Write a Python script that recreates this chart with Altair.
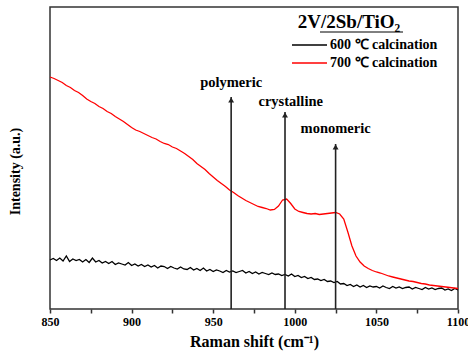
import altair as alt
import pandas as pd

# ---- data ----
black_y = [49, 50.5, 48.5, 51, 48, 53, 47.5, 50, 48.5, 49.5,
           47, 49.5, 46.5, 51, 47, 48.5, 46, 47.5, 45.5, 47.5,
           44.5, 46, 45, 44, 46.5, 43.5, 45, 43, 44.5, 42.5,
           44, 42, 43.5, 41, 43, 42.5, 40.5, 42.5, 41, 40,
           42, 40, 39.5, 41.5, 39, 40.5, 38.5, 41, 38, 39.5,
           37.5, 39, 38, 36.5, 38.5, 37, 38, 36.5, 37.5, 38.5,
           36, 37.5, 35.5, 37, 35, 36.5, 35.5, 34.5, 36, 34.5,
           35, 33.5, 34.5, 33, 35, 32.5, 33.5, 31.5, 32.5, 30.5,
           31.5, 29.5, 30, 28.5, 29.5, 27.5, 28, 26.5, 27.5, 25,
           25.5, 23.5, 24.5, 22.5, 24, 22, 23.5, 21.5, 23, 22,
           22.5, 21, 23, 21.5, 20.5, 22.5, 21, 22, 20.5, 21.5,
           22, 20, 21.5, 20.5, 19.5, 21.5, 20, 21, 19.5, 20.5,
           21, 19, 20, 18.5, 20.5, 19]
black_x = [850 + 2 * i for i in range(len(black_y))]

red_y = [232, 230.5, 228.5, 226.5, 223.5, 221.5, 218.5, 216.5, 213.5, 210,
         207.5, 205.5, 202.5, 200.5, 197.5, 195.5, 192.5, 190, 187.5, 184.5,
         181.5, 179, 177.5, 175.5, 173.5, 171.5, 170, 167.5, 165.5, 164.5,
         162, 160.5, 158, 155.5, 152.5, 149.5, 145.5, 142.5, 139.5, 135.5,
         132, 128.5, 125.5, 122.5, 119, 116.5, 113.5, 111, 108.5, 106.5,
         104.5, 102.5, 101.5, 100.5, 99, 99.5, 103, 109, 110, 105.5,
         100, 97.5, 96.5, 95.5, 95, 95.5, 94.5, 95, 95.5, 96,
         96.5, 95, 90, 77, 63, 53, 47, 43, 40.5, 38.5,
         37, 36, 34.5, 33, 32, 31, 30, 29, 28, 27.5,
         26.5, 25.5, 25, 24, 23.5, 23, 22.5, 22, 21.5, 21,
         20.5]
red_x = [850 + 2.5 * i for i in range(len(red_y))]

series_names = ["600 ℃ calcination", "700 ℃ calcination"]
series_colors = ["#000000", "#ff0000"]

ann_labels = ["polymeric", "crystalline", "monomeric"]
ann_x = [961, 994, 1025]
ann_top = [212, 197, 165]
ann_label_x = [961, 997.5, 1025]
ann_label_y = [226, 207, 180]

x_ticks = [850 + 25 * i for i in range(11)]

df = pd.concat([
    pd.DataFrame({"x": black_x, "y": black_y, "series": series_names[0]}),
    pd.DataFrame({"x": red_x, "y": red_y, "series": series_names[1]}),
])
ann = pd.DataFrame({"label": ann_labels, "x": ann_x, "top": ann_top, "zero": 0,
                    "lx": ann_label_x, "ly": ann_label_y})
one = pd.DataFrame({"k": [0]})

FONT = "Liberation Serif"

xscale = alt.Scale(domain=[850, 1100], nice=False, zero=False)
yscale = alt.Scale(domain=[0, 302], nice=False, zero=False)

lines = alt.Chart(df).mark_line(strokeWidth=1.3).encode(
    x=alt.X("x:Q", scale=xscale,
            axis=alt.Axis(values=x_ticks, title="Raman shift (cm⁻¹)", grid=False,
                          format="d",
                          labelExpr="datum.value % 50 == 0 ? datum.label : ''",
                          labelFont=FONT, labelFontWeight="bold", labelFontSize=12,
                          labelColor="#000", titleFont=FONT, titleFontWeight="bold",
                          titleFontSize=16, titleColor="#000", titlePadding=6,
                          tickSize=4, tickColor="#333", tickWidth=1.5, domain=False,
                          labelPadding=3, labelFlush=False, labelOverlap=False)),
    y=alt.Y("y:Q", scale=yscale,
            axis=alt.Axis(title="Intensity (a.u.)", labels=False, ticks=False, grid=False,
                          domain=False, titleFont=FONT, titleFontWeight="bold",
                          titleFontSize=14, titleColor="#000", titleX=-28, titleY=164)),
    color=alt.Color("series:N", scale=alt.Scale(domain=series_names, range=series_colors),
                    legend=None),
)

rules = alt.Chart(ann).mark_rule(color="#222", strokeWidth=1.6).encode(
    x="x:Q", y="zero:Q", y2="top:Q")

heads = alt.Chart(ann).mark_point(shape="triangle-up", filled=True, color="#222",
                                  size=35, opacity=1).encode(
    x="x:Q", y=alt.Y("top:Q"), yOffset=alt.value(3))

texts = alt.Chart(ann).mark_text(font=FONT, fontWeight="bold", fontSize=14.5,
                                 color="#000").encode(
    x="lx:Q", y="ly:Q", text="label:N")

title_txt = alt.Chart(one).mark_text(font=FONT, fontWeight="bold", fontSize=19,
                                     color="#000").encode(
    x=alt.value(299), y=alt.value(15), text=alt.value("2V/2Sb/TiO₂"))

underline = alt.Chart(one).mark_rule(color="#000", strokeWidth=1).encode(
    x=alt.value(270), x2=alt.value(353), y=alt.value(25))

leg_layers = []
for i, (name, col) in enumerate(zip(series_names, series_colors)):
    yy = 38 + 18 * i
    leg_layers.append(alt.Chart(one).mark_rule(color=col, strokeWidth=1.5).encode(
        x=alt.value(242), x2=alt.value(277), y=alt.value(yy)))
    leg_layers.append(alt.Chart(one).mark_text(font=FONT, fontWeight="bold", fontSize=14,
                                               color="#000", align="left",
                                               baseline="middle").encode(
        x=alt.value(280), y=alt.value(yy), text=alt.value(name)))

chart = alt.layer(lines, rules, heads, texts, title_txt, underline, *leg_layers).properties(
    width=408, height=302,
    autosize=alt.AutoSizeParams(type="none"),
    padding={"left": 50, "top": 7, "right": 10, "bottom": 44},
    background="white",
).configure_view(stroke="#333", strokeWidth=1.5)

chart.save("out.html", embed_options={"renderer": "svg", "actions": False})
